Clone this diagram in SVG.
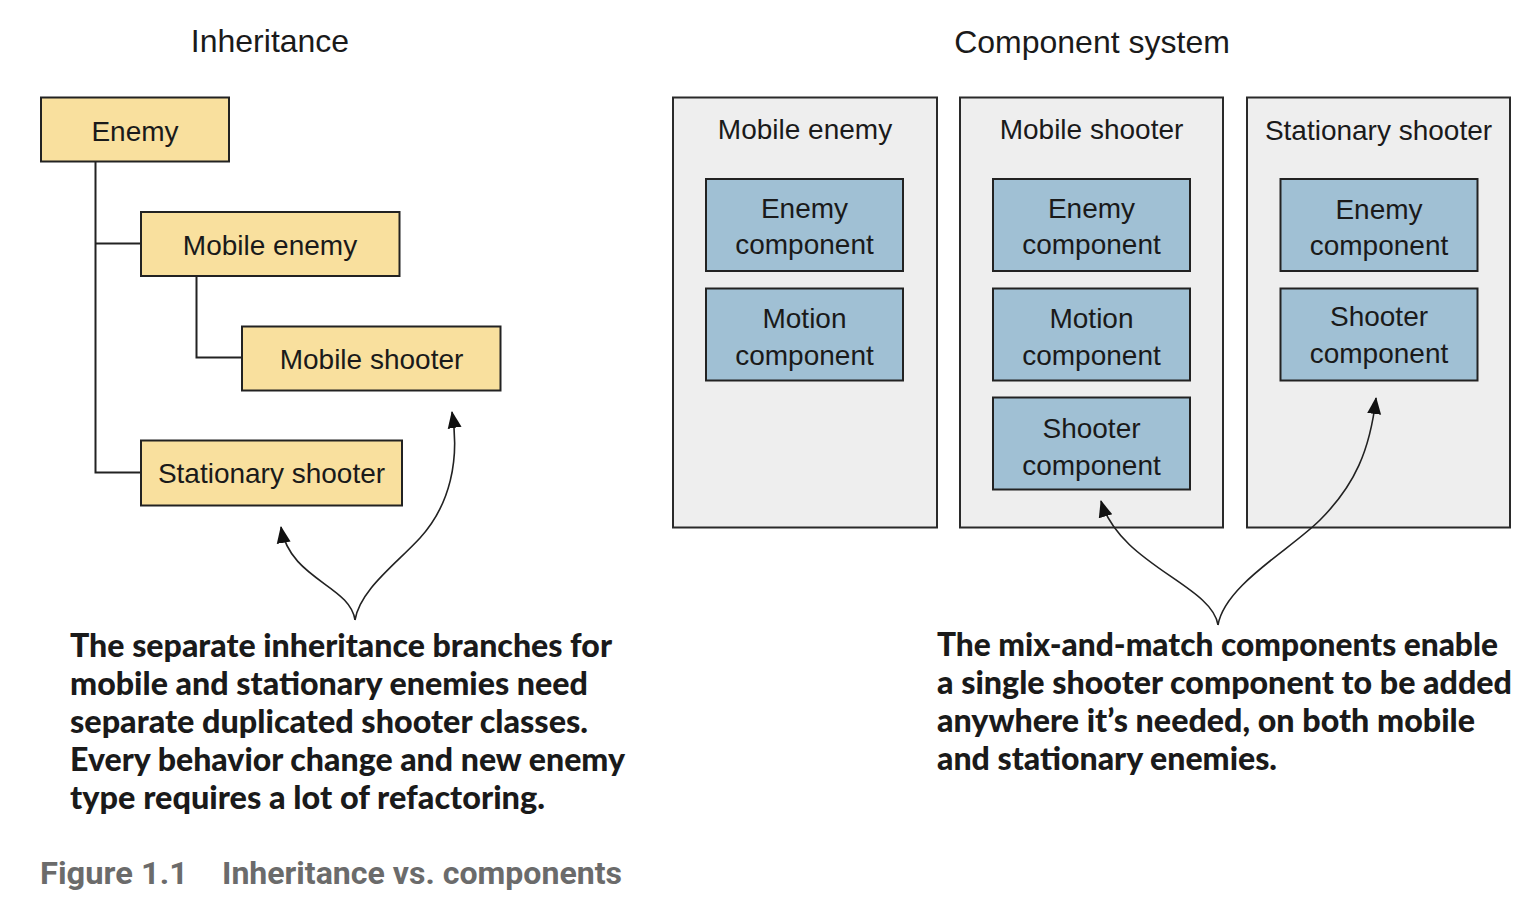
<svg xmlns="http://www.w3.org/2000/svg" width="1536" height="912" viewBox="0 0 1536 912">
  <defs>
    <style>
      .title { font-family: "Liberation Sans", Arial, sans-serif; font-size: 32px; fill: #1a1a1a; text-anchor: middle; }
      .lbl { font-family: "Liberation Sans", Arial, sans-serif; font-size: 28px; fill: #1a1a1a; text-anchor: middle; }
      .cls { fill: #F9E09E; stroke: #222; stroke-width: 2; }
      .cont { fill: #EEEEEE; stroke: #2a2a2a; stroke-width: 2; }
      .comp { fill: #A0C0D4; stroke: #222; stroke-width: 2; }
      .tree { fill: none; stroke: #222; stroke-width: 2; }
      .arr { fill: none; stroke: #222; stroke-width: 1.6; marker-end: url(#ah); }
      .note { font-family: Lato, "Open Sans", sans-serif; font-weight: 900; font-size: 32px; fill: #1a1a1a; }
      .cap { font-family: Roboto, "Liberation Sans", sans-serif; font-weight: 700; font-size: 32px; fill: #6b6b6b; }
    </style>
    <marker id="ah" markerUnits="userSpaceOnUse" markerWidth="18" markerHeight="18" viewBox="0 0 18 18" refX="16" refY="9" orient="auto">
      <path d="M0,2 L17,9 L0,16 z" fill="#111"/>
    </marker>
  </defs>

  <rect width="1536" height="912" fill="#ffffff"/>

  <text class="title" x="270" y="52">Inheritance</text>
  <text class="title" x="1092" y="53">Component system</text>

  <g id="enemy">
    <rect class="cls" x="41" y="97.5" width="188" height="64"/>
    <text class="lbl" x="135" y="141">Enemy</text>
  </g>
  <g id="mobile-enemy">
    <rect class="cls" x="141" y="212" width="258.5" height="64"/>
    <text class="lbl" x="270" y="255">Mobile enemy</text>
  </g>
  <g id="mobile-shooter">
    <rect class="cls" x="242" y="326.5" width="258.5" height="64"/>
    <text class="lbl" x="371.5" y="369">Mobile shooter</text>
  </g>
  <g id="stationary-shooter">
    <rect class="cls" x="141" y="440.5" width="261" height="65"/>
    <text class="lbl" x="271.5" y="483">Stationary shooter</text>
  </g>

  <g id="c-mobile-enemy">
    <rect class="cont" x="673" y="97.5" width="264" height="430"/>
    <text class="lbl" x="805" y="139">Mobile enemy</text>
    <g id="c1-enemy">
      <rect class="comp" x="706" y="179" width="197" height="92"/>
      <text class="lbl" x="804.5" y="218">Enemy</text>
      <text class="lbl" x="804.5" y="254">component</text>
    </g>
    <g id="c1-motion">
      <rect class="comp" x="706" y="288.5" width="197" height="92"/>
      <text class="lbl" x="804.5" y="328">Motion</text>
      <text class="lbl" x="804.5" y="365">component</text>
    </g>
  </g>

  <g id="c-mobile-shooter">
    <rect class="cont" x="960" y="97.5" width="263" height="430"/>
    <text class="lbl" x="1091.5" y="139">Mobile shooter</text>
    <g id="c2-enemy">
      <rect class="comp" x="993" y="179" width="197" height="92"/>
      <text class="lbl" x="1091.5" y="218">Enemy</text>
      <text class="lbl" x="1091.5" y="254">component</text>
    </g>
    <g id="c2-motion">
      <rect class="comp" x="993" y="288.5" width="197" height="92"/>
      <text class="lbl" x="1091.5" y="328">Motion</text>
      <text class="lbl" x="1091.5" y="365">component</text>
    </g>
    <g id="c2-shooter">
      <rect class="comp" x="993" y="397.5" width="197" height="92"/>
      <text class="lbl" x="1091.5" y="438">Shooter</text>
      <text class="lbl" x="1091.5" y="475">component</text>
    </g>
  </g>

  <g id="c-stationary-shooter">
    <rect class="cont" x="1247" y="97.5" width="263" height="430"/>
    <text class="lbl" x="1378.5" y="140">Stationary shooter</text>
    <g id="c3-enemy">
      <rect class="comp" x="1280.5" y="179" width="197" height="92"/>
      <text class="lbl" x="1379" y="219">Enemy</text>
      <text class="lbl" x="1379" y="255">component</text>
    </g>
    <g id="c3-shooter">
      <rect class="comp" x="1280.5" y="288.5" width="197" height="92"/>
      <text class="lbl" x="1379" y="326">Shooter</text>
      <text class="lbl" x="1379" y="363">component</text>
    </g>
  </g>

  <g id="connectors">
    <path class="tree" d="M95.5,162 V472.5 H141 M95.5,243.5 H141"/>
    <path class="tree" d="M196.5,276 V357.5 H242"/>
    <path class="arr" d="M355,620 C350,585 290,580 281,527"/>
    <path class="arr" d="M355,620 C360,590 395,565 420,538 C450,505 460,460 452,412"/>
    <path class="arr" d="M1218,625 C1212,585 1120,565 1101,501"/>
    <path class="arr" d="M1218,625 C1225,585 1290,550 1320,520 C1355,485 1370,450 1376,398"/>
  </g>

  <g id="note-left">
    <text class="note" x="70" y="657" textLength="542" lengthAdjust="spacingAndGlyphs">The separate inheritance branches for</text>
    <text class="note" x="70" y="695" textLength="518" lengthAdjust="spacingAndGlyphs">mobile and stationary enemies need</text>
    <text class="note" x="70" y="733" textLength="518" lengthAdjust="spacingAndGlyphs">separate duplicated shooter classes.</text>
    <text class="note" x="70" y="771" textLength="555" lengthAdjust="spacingAndGlyphs">Every behavior change and new enemy</text>
    <text class="note" x="70" y="809" textLength="475" lengthAdjust="spacingAndGlyphs">type requires a lot of refactoring.</text>
  </g>

  <g id="note-right">
    <text class="note" x="937" y="656" textLength="561" lengthAdjust="spacingAndGlyphs">The mix-and-match components enable</text>
    <text class="note" x="937" y="694" textLength="575" lengthAdjust="spacingAndGlyphs">a single shooter component to be added</text>
    <text class="note" x="937" y="732" textLength="538" lengthAdjust="spacingAndGlyphs">anywhere it’s needed, on both mobile</text>
    <text class="note" x="937" y="770" textLength="340" lengthAdjust="spacingAndGlyphs">and stationary enemies.</text>
  </g>

  <g id="caption">
    <text class="cap" x="40" y="884" textLength="148" lengthAdjust="spacingAndGlyphs">Figure 1.1</text>
    <text class="cap" x="222" y="884" textLength="400" lengthAdjust="spacingAndGlyphs">Inheritance vs. components</text>
  </g>
</svg>
